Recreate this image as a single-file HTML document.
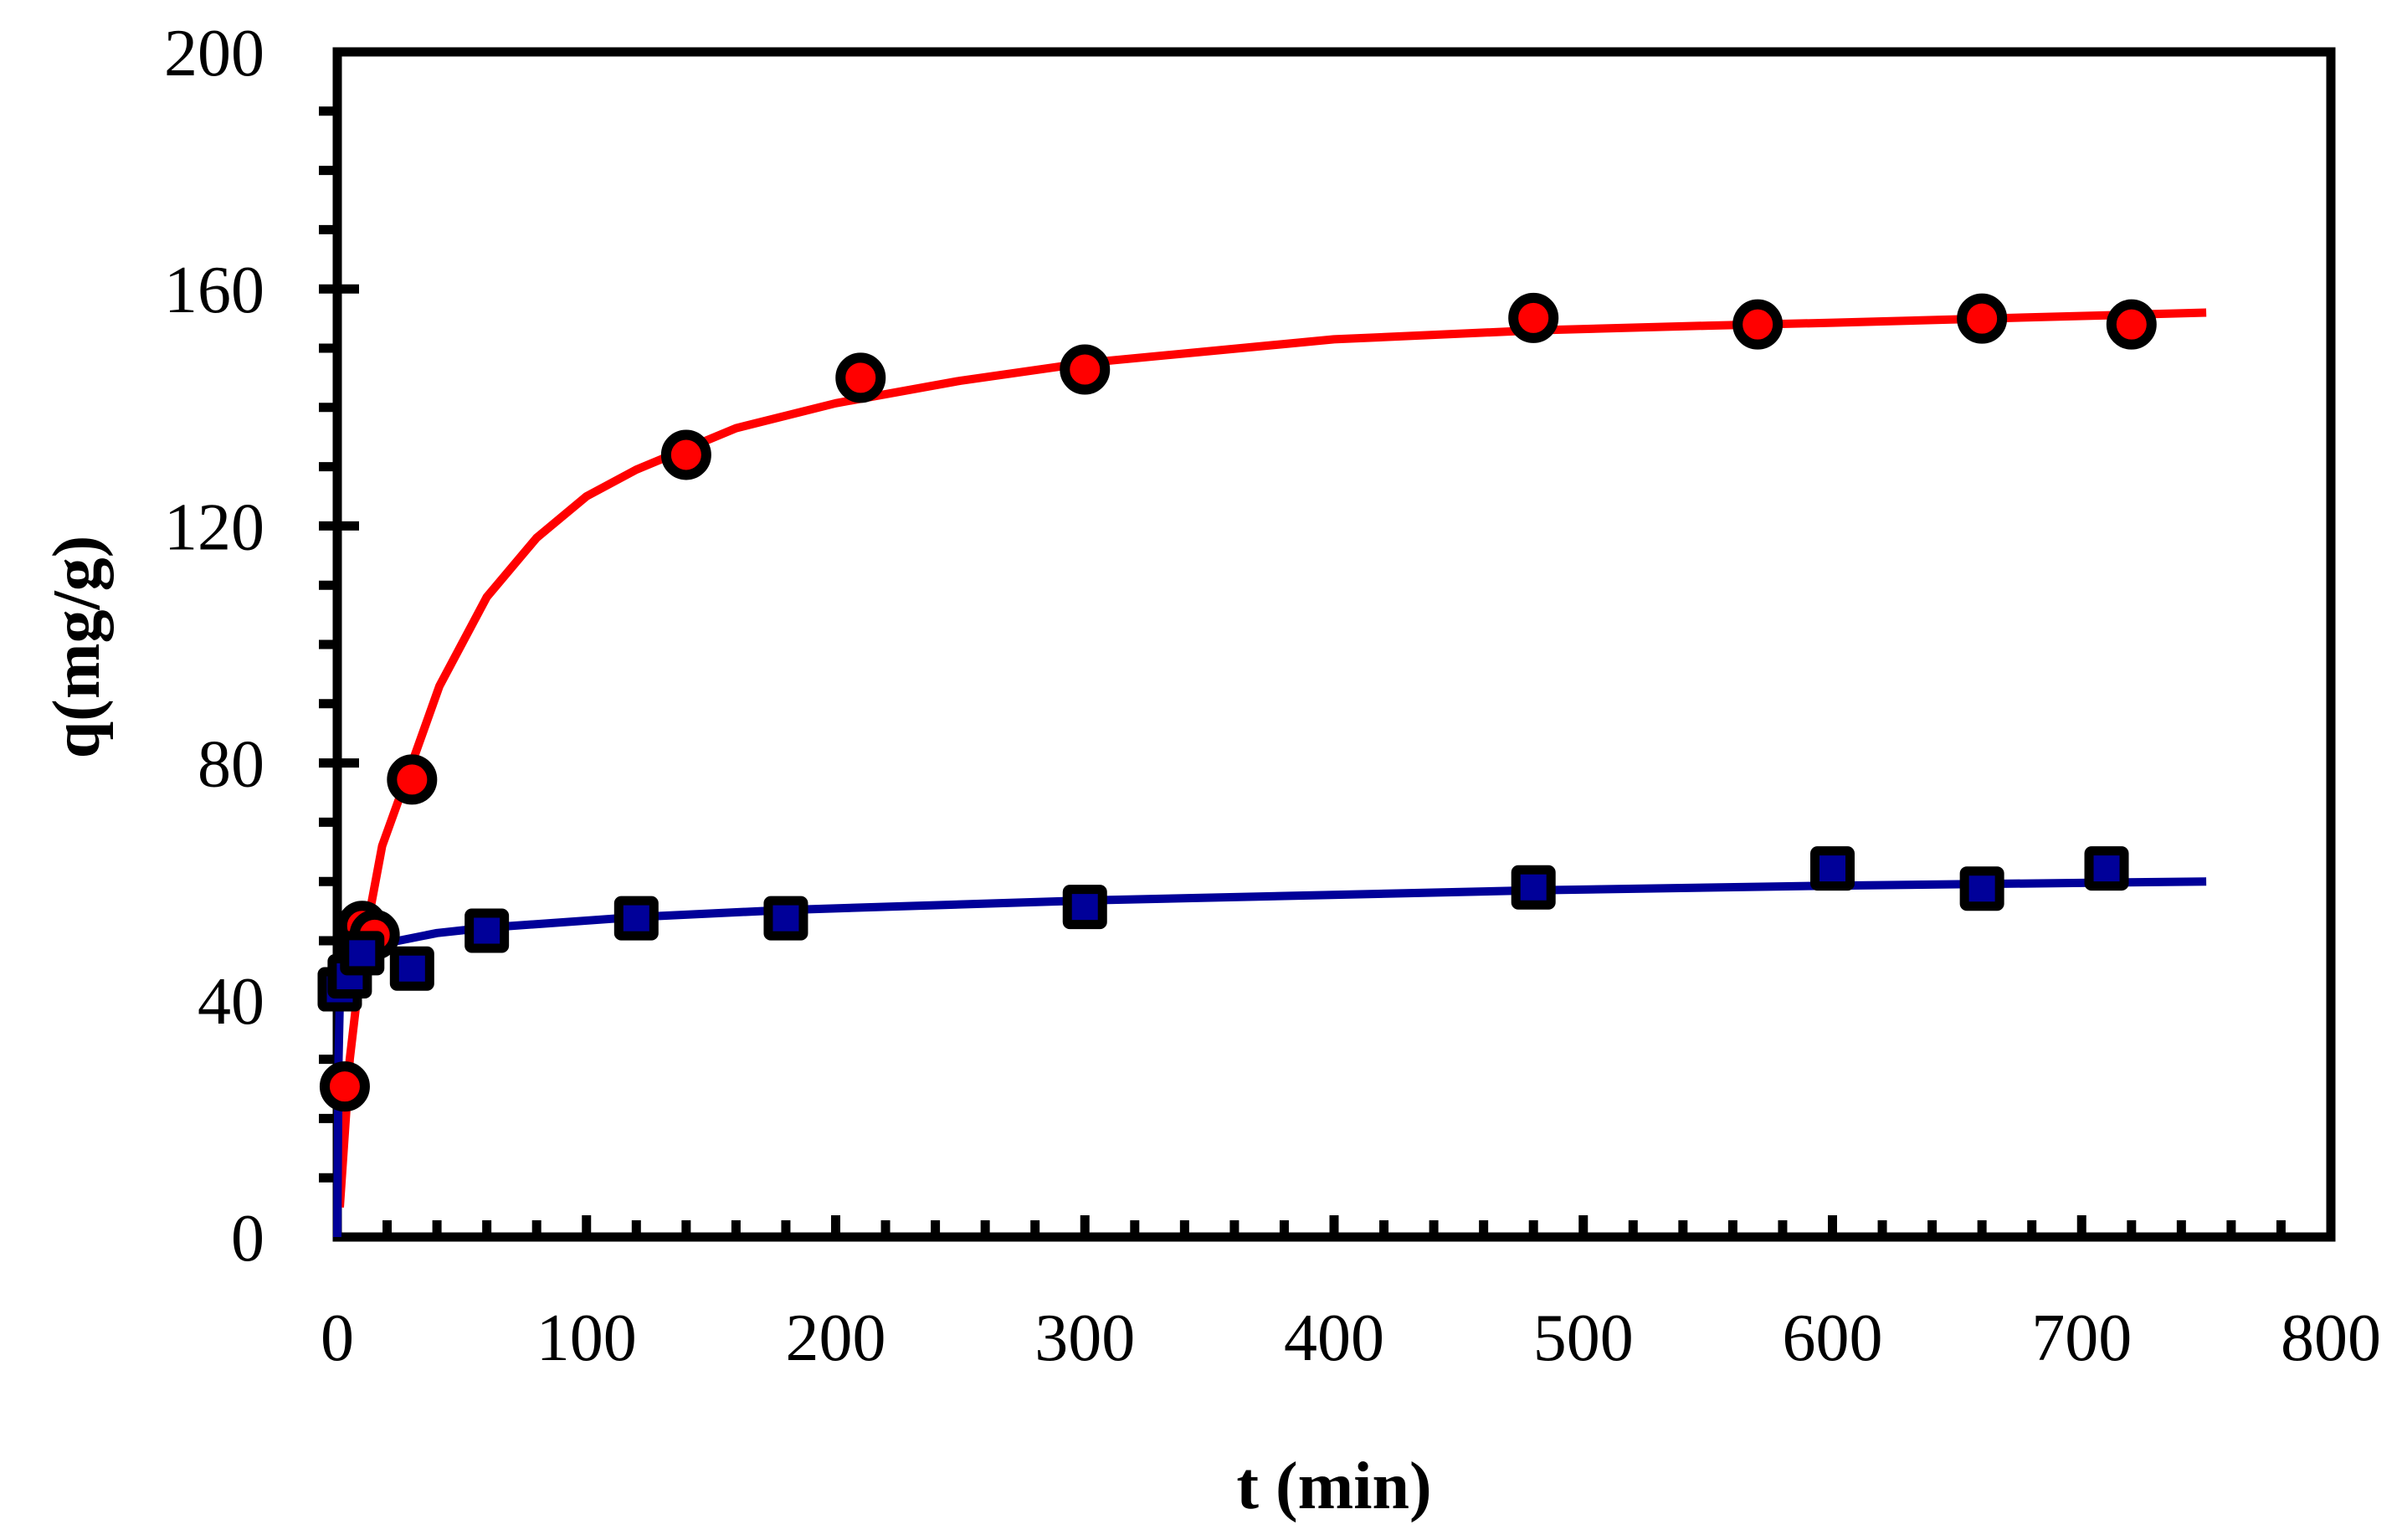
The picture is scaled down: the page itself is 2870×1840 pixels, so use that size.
<!DOCTYPE html>
<html><head><meta charset="utf-8"><style>
html,body{margin:0;padding:0;background:#fff;}
svg{display:block;}
text{font-family:"Liberation Serif",serif;fill:#000;}
</style></head><body>
<svg id="chart" width="2870" height="1840" viewBox="0 0 2870 1840" xmlns="http://www.w3.org/2000/svg">
<g id="grid"></g>
<g id="series"></g>
<text x="1594" y="1802" font-size="80" font-weight="bold" text-anchor="middle">t (min)</text>
<text transform="translate(118,773) rotate(-90)" font-size="80" font-weight="bold" text-anchor="middle">q(mg/g)</text>
</svg>
<script>
const xTicks = [0,100,200,300,400,500,600,700,800];
const yTicks = [0,40,80,120,160,200];
const redT = [3,10,15,30,140,210,300,480,570,660,720];
const redQ = [25.4,52.5,51,77.2,132,145,146.4,155.1,154,155,154];
const blueT = [1,5,10,30,60,120,180,300,480,600,660,710];
const blueQ = [41.8,44,47.9,45.3,51.7,53.8,53.8,55.7,59,62.2,58.8,62.2];
const redFitT = [1,5,10,18,30,41,60,80,100,120,140,160,200,250,300,400,480,550,600,750];
const redFitQ = [5,30,48,66,80,93,108,118,125,129.5,133,136.5,140.7,144.5,147.5,151.5,153,153.8,154.3,156];
const blueFitT = [0,0.5,1,3,10,21,40,60,120,180,300,480,600,750];
const blueFitQ = [0,30,40,44,47.5,49.7,51.3,52.2,54,55.2,56.8,58.5,59.3,60];

const NS="http://www.w3.org/2000/svg";
const X0=403,X1=2785,Y0=1478,Y1=62;
function sx(v){return X0+(v-0)/(800-0)*(X1-X0);}
function sy(v){return Y0-(v-0)/(200-0)*(Y0-Y1);}
function mk(tag,attrs,parent){const e=document.createElementNS(NS,tag);for(const k in attrs)e.setAttribute(k,attrs[k]);parent.appendChild(e);return e;}
const ax=document.getElementById('grid');
const se=document.getElementById('series');

// frame
let f=mk('rect',{x:X0,y:Y1,width:X1-X0,height:Y0-Y1,fill:'none',stroke:'#000','stroke-width':11},ax);


// x minor ticks every 20
for(let v=20;v<800;v+=20){
  const major=(v%100===0);
  let t=mk('line',{x1:sx(v),x2:sx(v),y1:Y0,y2:Y0-(major?26:20),stroke:'#000','stroke-width':11},ax);
  
  
}
// y ticks every 10
for(let v=10;v<200;v+=10){
  const major=(v%40===0);
  let t=mk('line',{x1:X0-22,x2:major?X0+26:X0,y1:sy(v),y2:sy(v),stroke:'#000','stroke-width':11},ax);
  
  
}
xTicks.forEach(v=>{
  let t=mk('text',{x:sx(v),y:1625,'font-size':80,'text-anchor':'middle'},ax);
  t.textContent=v;
  
  
});
yTicks.forEach(v=>{
  let t=mk('text',{x:316,y:sy(v)+28,'font-size':80,'text-anchor':'end'},ax);
  t.textContent=v;
  
  
});

function path(ts,qs){return ts.map((t,i)=>(i?'L':'M')+sx(t).toFixed(1)+','+sy(qs[i]).toFixed(1)).join(' ');}
let rl=mk('path',{d:path(redFitT,redFitQ),fill:'none',stroke:'#ff0000','stroke-width':10,'stroke-linejoin':'round'},se);


let bl=mk('path',{d:path(blueFitT,blueFitQ),fill:'none',stroke:'#000099','stroke-width':10,'stroke-linejoin':'round'},se);


redT.forEach((t,i)=>{
  let c=mk('circle',{cx:sx(t),cy:sy(redQ[i]),r:24,fill:'#ff0000',stroke:'#000','stroke-width':12},se);
  
  
});
blueT.forEach((t,i)=>{
  let r=mk('rect',{x:sx(t)-21,y:sy(blueQ[i])-21,width:42,height:42,rx:3,fill:'#000099',stroke:'#000','stroke-width':11},se);
  
  
});
</script>
</body></html>
